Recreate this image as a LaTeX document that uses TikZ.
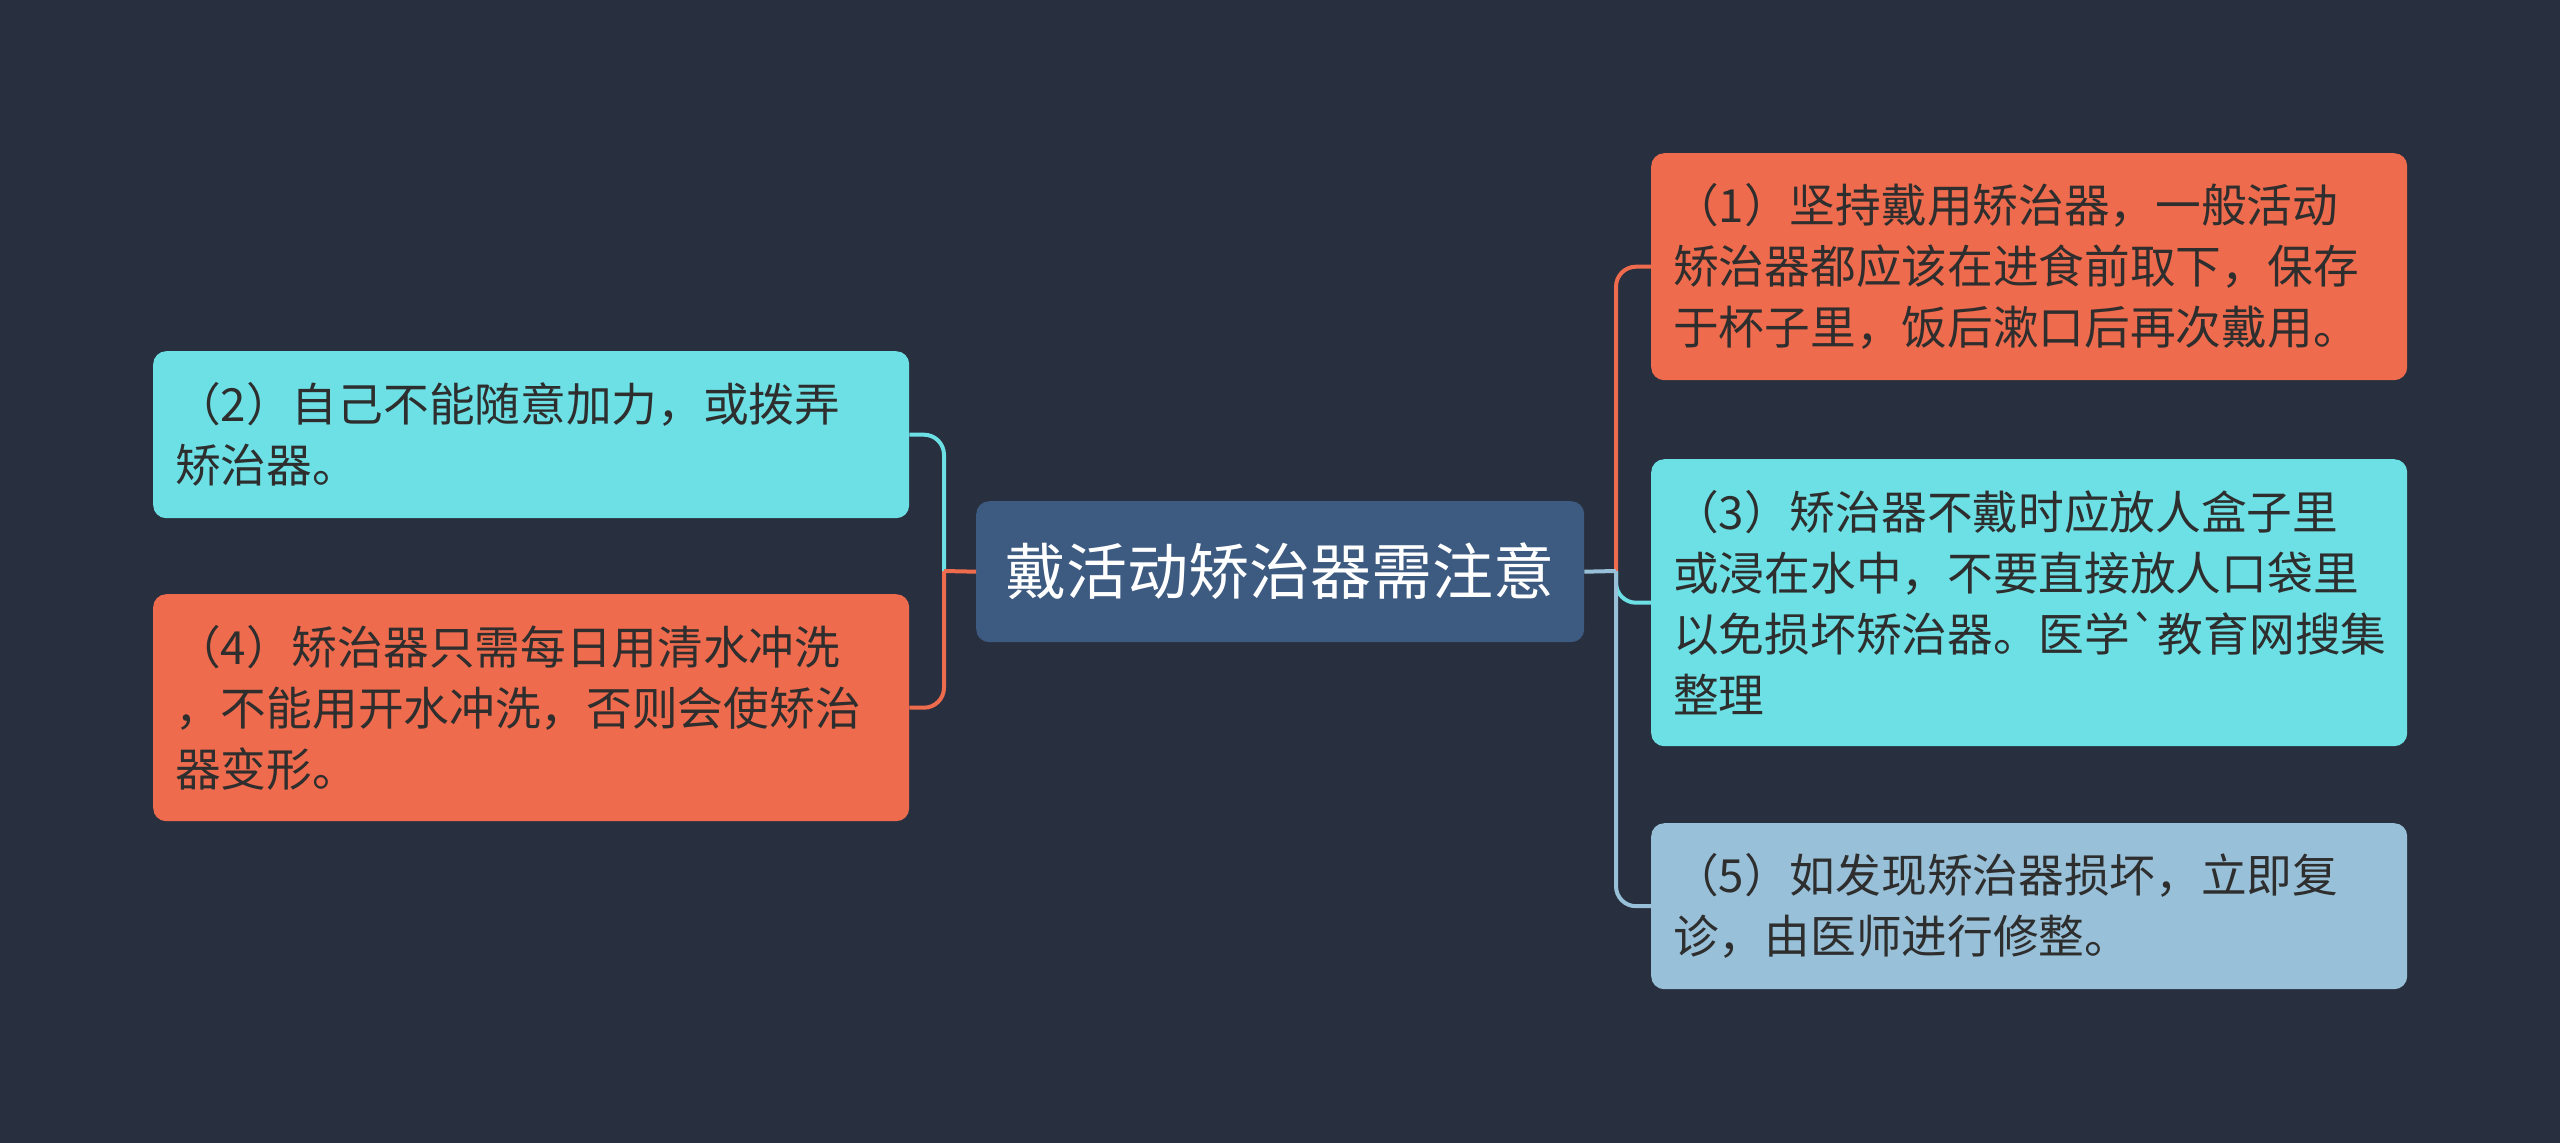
\documentclass[tikz,border=0pt]{standalone}
\usepackage{fontspec}
\newfontfamily\cjk{Noto Sans CJK SC}
\definecolor{bg}{HTML}{282F3E}
\definecolor{cnode}{HTML}{3D5A80}
\definecolor{corange}{HTML}{EE6B4D}
\definecolor{ccyan}{HTML}{6CE0E4}
\definecolor{clblue}{HTML}{98C1D9}
\definecolor{ctext}{HTML}{2E2E2E}
\begin{document}
\begin{tikzpicture}[x=1pt,y=-1pt,
  box/.style={rounded corners=13pt, anchor=north west, inner xsep=22pt, inner ysep=0pt,
     align=left, text=ctext, font=\cjk\fontsize{45.7}{61}\selectfont, text width=712pt},
  conn/.style={line width=4pt, rounded corners=20pt}]
\fill[bg] (0,0) rectangle (2560,1143);
\useasboundingbox (0,0) rectangle (2560,1143);
% center
\node[rounded corners=13pt, fill=cnode, anchor=north west, minimum width=608pt, minimum height=141pt,
  inner sep=0pt, text=white, font=\cjk\fontsize{61}{70}\selectfont] (c) at (976,501) {戴活动矫治器需注意};
% left nodes
\node[box, fill=ccyan, minimum height=167pt] (n2) at (153,351)
  {（2）自己不能随意加力，或拨弄\\矫治器。};
\node[box, fill=corange, minimum height=227pt] (n4) at (153,594)
  {（4）矫治器只需每日用清水冲洗\\，不能用开水冲洗，否则会使矫治\\器变形。};
% right nodes
\node[box, fill=corange, minimum height=227pt] (n1) at (1651,153)
  {（1）坚持戴用矫治器，一般活动\\矫治器都应该在进食前取下，保存\\于杯子里，饭后漱口后再次戴用。};
\node[box, fill=ccyan, minimum height=287pt] (n3) at (1651,459)
  {（3）矫治器不戴时应放人盒子里\\或浸在水中，不要直接放人口袋里\\以免损坏矫治器。医学`教育网搜集\\整理};
\node[box, fill=clblue, minimum height=166pt] (n5) at (1651,823)
  {（5）如发现矫治器损坏，立即复\\诊，由医师进行修整。};
% junctions
\coordinate (jl) at (944,571);
\coordinate (jr) at (1616,571);
% connectors left
\draw[conn, ccyan] (jl) |- (n2.east);
\draw[conn, corange] (jl) |- (n4.east);
\draw[conn, corange] (c.west) -- (jl);
% connectors right
\draw[conn, corange] (jr) |- (n1.west);
\draw[conn, ccyan] (jr) |- (n3.west);
\draw[conn, clblue] (jr) |- (n5.west);
\draw[conn, clblue] (c.east) -- (jr);
\end{tikzpicture}
\end{document}
